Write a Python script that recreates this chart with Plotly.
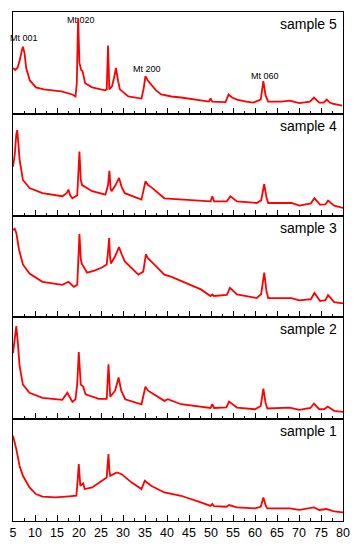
import plotly.graph_objects as go
from plotly.subplots import make_subplots

# ---- data (2-theta in degrees, intensity in arbitrary units per panel) ----
s5_x = [5.0, 5.5, 6.0, 6.5, 7.0, 7.25, 7.6, 8.0, 8.8, 10.2, 12, 14, 16, 18.5, 19.2, 19.5, 19.8, 20.1, 20.5, 20.8,
        21.4, 23, 25.9, 26.3, 26.6, 26.9, 27.5, 28.0, 28.4, 28.9, 29.3, 31.2, 34.2, 34.7, 35.1, 35.6, 36.4, 37.5,
        38.7, 41, 43.2, 46, 49.5, 49.9, 50.3, 53.3, 54.0, 54.8, 55.9, 58, 59.6, 61.3, 61.9, 62.4, 63.0, 66, 67.9,
        70.1, 72.5, 73.4, 74.6, 75.6, 76.3, 77.0, 77.6, 79.8]
s5_y = [45, 43, 45, 52, 62, 66, 60, 45, 33, 26, 24, 23, 22, 19, 17, 30, 94, 50, 43, 42,
        30, 26, 23, 24, 67, 24, 27, 36, 45, 32, 24, 17, 15, 25, 37, 33, 29, 23,
        19, 17, 16, 14, 12, 15, 12, 11.5, 19, 16, 14, 12, 11, 14, 32, 18, 12, 12, 13,
        10.5, 12, 16, 11, 11, 14, 11, 10, 8]

s4_x = [5.0, 5.4, 5.75, 5.97, 6.2, 6.5, 7.25, 8.75, 11.7, 16.2, 17.2, 17.6, 18.0, 18.5, 19.6, 19.85, 20.1, 20.4,
        20.7, 23, 26, 26.6, 26.9, 27.2, 27.4, 28.3, 29.1, 29.7, 30.4, 34.2, 34.7, 35.1, 35.7, 36.4, 39.4, 43.2,
        47, 49.9, 50.3, 50.7, 53.6, 54.4, 55.9, 60.4, 61.4, 62.1, 62.6, 63, 68.3, 70.1, 72.7, 73.5, 74.8, 76.0,
        76.6, 78, 80]
s4_y = [48, 60, 80, 84, 72, 55, 35, 27, 22, 19, 22, 25.5, 20, 17, 20, 40, 63, 35,
        30, 24, 20.6, 30, 44, 26, 24, 30, 37, 28, 22, 15.7, 28, 33.6, 30, 28, 17, 15.7,
        15, 14, 19, 14, 14, 19, 14, 12.4, 15, 31, 18, 12.4, 12.4, 9.8, 12, 17, 10.8, 11,
        14.7, 9.8, 7.5]

s3_x = [5.0, 5.4, 5.75, 6.35, 7.25, 8.75, 11.7, 16.2, 17.6, 18.85, 19.6, 19.85, 20.1, 20.4, 20.6, 21.85, 23.5,
        25.2, 26.3, 26.6, 26.85, 27.05, 27.25, 28.2, 29.1, 29.7, 30.4, 33.5, 34.6, 35.2, 35.7, 36.4, 39.4, 40.9,
        43.2, 47.7, 49.9, 50.3, 50.7, 53.6, 54.3, 55.9, 60.4, 61.4, 62.1, 62.6, 63, 68.3, 70.1, 72.7, 73.5, 74.8,
        76.0, 76.6, 78, 80]
s3_y = [86, 87, 83, 67, 52, 43, 35, 32, 35, 30, 32, 55, 82, 58, 53, 44, 46,
        49, 52, 65, 78, 60, 53, 60, 69, 62, 55, 42, 45, 62, 58, 55, 42, 40,
        36, 27.5, 21, 22.5, 21, 22, 29, 22.5, 19, 23, 44, 26, 19, 19, 16.7, 18, 24, 16,
        17, 21.9, 15, 13.7]

s2_x = [5.0, 5.4, 5.75, 6.1, 6.5, 7.25, 8.75, 11.7, 16.2, 17.35, 18.0, 18.5, 19.2, 19.6, 19.95, 20.4, 20.95,
        21.5, 24.5, 26.3, 26.7, 27.1, 28.2, 29.0, 29.6, 30.5, 34.2, 34.7, 35.1, 35.7, 36.4, 39.4, 40.2, 43.2,
        49.9, 50.3, 50.7, 53.5, 54.1, 55.9, 60, 61.3, 61.9, 62.4, 62.8, 67.9, 70.1, 72.6, 73.4, 74.6, 75.8,
        76.5, 78, 80]
s2_y = [65, 82, 91.5, 75, 52, 34, 26, 21, 19, 26, 20, 17, 19.6, 35, 66, 34, 32,
        24.5, 20, 20, 54, 22, 28, 41, 28, 19.6, 14.7, 26, 32, 28, 26, 18, 19.6, 14.7,
        11, 14.7, 11, 11.5, 17.3, 11.4, 9.8, 13, 30, 16, 10.5, 11.4, 9.2, 11, 15.4, 9.8, 10,
        12.4, 8.2, 7.2]

s1_x = [5.0, 5.75, 6.5, 7.25, 8.75, 10.2, 11.7, 14.7, 17.7, 19.4, 19.7, 19.95, 20.3, 20.95, 21.3, 23, 25.2,
        26.3, 26.5, 26.7, 26.9, 27.1, 28.6, 29.7, 31.9, 34.2, 34.95, 36.4, 39.4, 43.2, 47.7, 49.9, 50.3, 50.7,
        53.5, 54.1, 55.9, 60, 61.3, 61.9, 62.5, 62.8, 67.9, 70.1, 73.4, 74.6, 76.2, 78, 80]
s1_y = [83.7, 70.6, 54, 44.4, 33, 26.5, 23.9, 23.2, 24.2, 24.8, 40, 55.9, 34.6, 37, 31.4, 33, 39.5,
        42.8, 55, 65.7, 50, 44.4, 47.7, 46, 38, 31.4, 39.5, 34.6, 28, 24.8, 18.3, 14.8, 16.7, 14.5,
        14, 15.7, 13.4, 12.4, 14, 23.2, 14.4, 12.4, 12.4, 11, 13.4, 10.8, 11.8, 9.5, 8.5]

sample_names = ["sample 5", "sample 4", "sample 3", "sample 2", "sample 1"]
peak_labels = ["Mt 001", "Mt 020", "Mt 200", "Mt 060"]
peak_label_x = [7.4, 20.5, 35.4, 62.3]
peak_label_y = [74.5, 92.5, 43.6, 37.3]
tick_vals = [5, 10, 15, 20, 25, 30, 35, 40, 45, 50, 55, 60, 65, 70, 75, 80]

series = [(s5_x, s5_y), (s4_x, s4_y), (s3_x, s3_y), (s2_x, s2_y), (s1_x, s1_y)]

fig = make_subplots(rows=5, cols=1, shared_xaxes=True, vertical_spacing=0)
FONT = "Liberation Sans, Arial, sans-serif"

for i, (xs, ys) in enumerate(series):
    r = i + 1
    fig.add_trace(go.Scatter(x=xs, y=ys, mode="lines",
                             line=dict(color="#ff0000", width=1.8),
                             showlegend=False, hoverinfo="skip"), row=r, col=1)
    fig.update_xaxes(range=[5, 80], showline=True, mirror=True, linecolor="black", linewidth=1,
                     ticks="inside", ticklen=6, tickwidth=1, tickcolor="black",
                     tickvals=tick_vals, ticktext=[str(v) for v in tick_vals],
                     minor=dict(ticks="inside", ticklen=3, tickwidth=1, tickcolor="black",
                                tickvals=[v + 2.5 for v in tick_vals[:-1]]),
                     showgrid=False, zeroline=False,
                     tickfont=dict(family=FONT, size=12.5, color="black"),
                     row=r, col=1)
    fig.update_yaxes(range=[0, 100], showline=True, mirror=True, linecolor="black", linewidth=1,
                     ticks="", showticklabels=False, showgrid=False, zeroline=False,
                     row=r, col=1)
    yref = "y domain" if r == 1 else f"y{r} domain"
    xref = "x domain" if r == 1 else f"x{r} domain"
    fig.add_annotation(text=sample_names[i], x=1, y=1, xref=xref, yref=yref,
                       xanchor="right", yanchor="top", xshift=-4, yshift=-2,
                       showarrow=False, font=dict(family=FONT, size=14, color="black"))

for lbl, lx, ly in zip(peak_labels, peak_label_x, peak_label_y):
    fig.add_annotation(text=lbl, x=lx, y=ly, xref="x", yref="y", showarrow=False,
                       font=dict(family=FONT, size=9, color="black"))

for r in range(1, 5):
    fig.update_xaxes(showticklabels=False, row=r, col=1)
fig.update_xaxes(showticklabels=True, row=5, col=1)

fig.update_layout(width=360, height=550, margin=dict(l=10, r=17, t=12, b=28),
                  paper_bgcolor="white", plot_bgcolor="white")

fig.write_html("out.html", config={"displayModeBar": False},
               post_script="document.body.style.margin='0';document.body.style.padding='0';")
